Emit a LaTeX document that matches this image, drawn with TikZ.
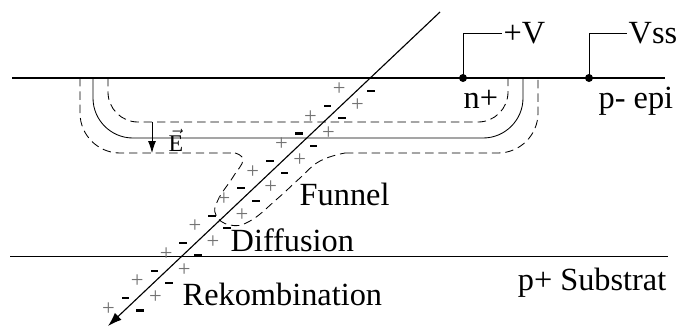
\documentclass[tikz,border=0pt]{standalone}
\usepackage{amsmath}
\usepackage{fontspec}
\setmainfont{Liberation Serif}
\usetikzlibrary{arrows.meta}
\definecolor{chargegray}{gray}{0.45}

\tikzset{
  edge/.style={line width=0.6, dash pattern=on 6pt off 3.5pt},
  dot/.style={circle, fill=black, inner sep=0pt, minimum size=2mm},
  lbl/.style={inner sep=1pt},
  plus/.style={text=chargegray, inner sep=0pt, font=\fontsize{16}{16}\selectfont},
  minus/.style={fill=black, inner sep=0pt, minimum width=5.5pt, minimum height=1.6pt}
}

\begin{document}
\begin{tikzpicture}[x=0.25mm, y=-0.25mm, font=\fontsize{23}{27}\selectfont]
  \useasboundingbox (0, 0) rectangle (684, 328);

  % surface and epi/substrate boundary
  \draw[line width=1] (12, 78) -- (665, 78);
  \draw[line width=0.6] (10, 256) -- (668, 256);

  % n+ junction
  \draw[line width=0.6, rounded corners=10mm] (93, 78) |- (523, 138) -- (523, 78);

  % edges of the space charge region
  \draw[edge, rounded corners=7.5mm] (108, 78) |- (508, 122) -- (508, 78);
  \draw[edge, rounded corners=10mm] (80, 78) |- (235, 153);
  \draw[edge] plot [smooth, tension=0.75] coordinates {
    (235, 153) (243, 160) (233, 177) (218, 200) (216, 215) (230, 225)
    (250, 221) (277, 199) (300, 178) (320, 161) (345, 153) };
  \draw[edge, rounded corners=10mm] (345, 153) -- (538, 153) -- (538, 78);

  % field direction
  \coordinate (e0) at (152, 122);
  \coordinate (e1) at (152, 153);
  \draw[line width=0.6, -{Latex[length=3mm, width=2mm]}] (e0) -- (e1);
  \node[lbl, font=\fontsize{17}{17}\selectfont] (efield) at (176, 140) { $\vec{\text{E}}$ };

  % contacts
  \node[dot] (nplus) at (463, 78) {};
  \node[dot] (pepi) at (589, 78) {};
  \node[lbl, anchor=west] (vplus) at (502, 33) {+V};
  \node[lbl, anchor=west] (vss) at (627, 33) {Vss};
  \draw[line width=0.6] (nplus.center) |- (vplus.west);
  \draw[line width=0.6] (pepi.center) |- (vss.west);

  % particle track
  \coordinate (ion) at (440, 12);
  \coordinate (stop) at (108, 326);
  \draw[line width=0.8, -{Latex[length=3.5mm, width=2.4mm]}] (ion) -- (stop);

  % generated pairs along the track
  \foreach \k in {0, 1, ..., 16} {
    \pgfmathsetmacro{\tl}{30 + 19.9 * \k}
    \pgfmathsetmacro{\tr}{8 + 19.9 * \k}
    \ifodd\k
      \node[minus] (l\k) at ({370 - 0.725 * \tl - 0.690 * 9}, {78 + 0.690 * \tl - 0.725 * 9}) {};
      \node[plus] (r\k) at ({370 - 0.725 * \tr + 0.690 * 11}, {78 + 0.690 * \tr + 0.725 * 11}) {+};
    \else
      \node[plus] (l\k) at ({370 - 0.725 * \tl - 0.690 * 13}, {78 + 0.690 * \tl - 0.725 * 13}) {+};
      \node[minus] (r\k) at ({370 - 0.725 * \tr + 0.690 * 10}, {78 + 0.690 * \tr + 0.725 * 10}) {};
    \fi
  }

  % region labels
  \node[lbl, anchor=base west] (ntext) at (462, 108) {n+};
  \node[lbl, anchor=base west] (epitext) at (597, 108) {p- epi};
  \node[lbl, anchor=base west] (funnel) at (298, 205) {Funnel};
  \node[lbl, anchor=base west] (diff) at (229, 251) {Diffusion};
  \node[lbl, anchor=base west] (rekomb) at (181, 305) {Rekombination};
  \node[lbl, anchor=base east] (subtext) at (668, 290) {p+ Substrat};
\end{tikzpicture}
\end{document}
